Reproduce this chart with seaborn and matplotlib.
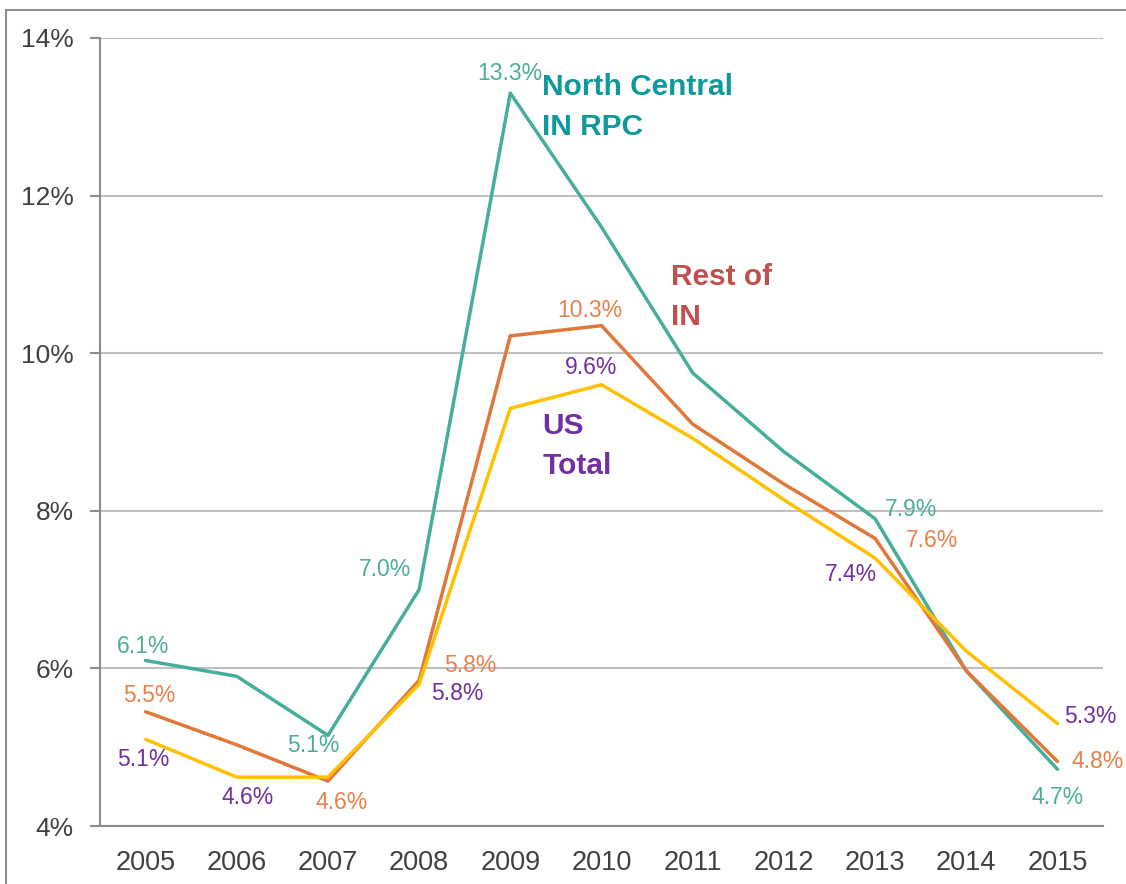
import pandas as pd
import matplotlib.pyplot as plt
import seaborn as sns
from matplotlib.patches import Rectangle

# data (unemployment rate, %)
years = [2005, 2006, 2007, 2008, 2009, 2010, 2011, 2012, 2013, 2014, 2015]
north_central = [6.1, 5.9, 5.15, 7.0, 13.3, 11.6, 9.75, 8.75, 7.9, 5.97, 4.72]
rest_of_in = [5.45, 5.03, 4.57, 5.85, 10.22, 10.35, 9.1, 8.34, 7.65, 5.97, 4.82]
us_total = [5.1, 4.62, 4.62, 5.8, 9.3, 9.6, 8.92, 8.14, 7.4, 6.22, 5.3]
series_names = ["North Central IN RPC", "Rest of IN", "US Total"]

# labelled points: (series, year, text)
point_labels = [
    ("North Central IN RPC", 2005, "6.1%"), ("North Central IN RPC", 2007, "5.1%"),
    ("North Central IN RPC", 2008, "7.0%"), ("North Central IN RPC", 2009, "13.3%"),
    ("North Central IN RPC", 2013, "7.9%"), ("North Central IN RPC", 2015, "4.7%"),
    ("Rest of IN", 2005, "5.5%"), ("Rest of IN", 2007, "4.6%"),
    ("Rest of IN", 2008, "5.8%"), ("Rest of IN", 2010, "10.3%"),
    ("Rest of IN", 2013, "7.6%"), ("Rest of IN", 2015, "4.8%"),
    ("US Total", 2005, "5.1%"), ("US Total", 2006, "4.6%"),
    ("US Total", 2008, "5.8%"), ("US Total", 2010, "9.6%"),
    ("US Total", 2013, "7.4%"), ("US Total", 2015, "5.3%"),
]

# label offsets in pixels (dx, dy up), same order as point_labels
label_offsets = [
    (-3, 14), (-15, -10), (-34, 20), (-1, 20), (36, 9), (0, -28),
    (4, 16), (14, -21), (51, 15), (-12, 15), (57, -2), (40, 0),
    (-2, -20), (11, -20), (38, -9), (-10, 17), (-24, -16), (33, 7),
]

line_colors = {"North Central IN RPC": "#46AF9B", "Rest of IN": "#E0783C", "US Total": "#FFC000"}
label_colors = {"North Central IN RPC": "#4BAE9B", "Rest of IN": "#E8804A", "US Total": "#7030A0"}

df = pd.DataFrame({
    "Year": years * 3,
    "Rate": north_central + rest_of_in + us_total,
    "Series": [s for s in series_names for _ in years],
})

sns.set_style("white")
plt.rcParams["font.family"] = ["Liberation Sans", "DejaVu Sans"]

fig = plt.figure(figsize=(11.26, 8.84), dpi=100)
ax = fig.add_axes([100 / 1126, 58 / 884, 1003 / 1126, 788 / 884])

# frame around the whole picture
fig.patches.append(Rectangle((6 / 1126, -0.1), 1.2, (884 - 10) / 884 + 0.1,
                             transform=fig.transFigure, fill=False,
                             edgecolor="#8C8C8C", linewidth=1.5))

sns.lineplot(data=df, x="Year", y="Rate", hue="Series", palette=line_colors,
             linewidth=2.5, legend=False, ax=ax, zorder=3)

# gridlines and axes
ax.set_ylim(4, 14)
ax.set_xlim(2004.5, 2015.5)
ax.set_yticks([4, 6, 8, 10, 12, 14])
ax.set_yticklabels(["4%", "6%", "8%", "10%", "12%", "14%"])
ax.set_xticks(years)
ax.set_xticklabels([str(y) for y in years])
ax.set_xticks([y - 0.5 for y in years] + [2015.5], minor=True)
ax.tick_params(axis="x", which="major", length=0, pad=17, labelsize=19.5, labelcolor="#404040")
ax.tick_params(axis="x", which="minor", length=8, width=1.5, color="#8C8C8C", direction="out")
ax.tick_params(axis="y", which="major", length=7, width=1.5, color="#8C8C8C", pad=12,
               labelsize=19, labelcolor="#404040", left=True)
ax.yaxis.grid(True, color="#C0C0C0", linewidth=1.5)
ax.set_axisbelow(True)
for side in ["top", "right"]:
    ax.spines[side].set_visible(False)
for side in ["left", "bottom"]:
    ax.spines[side].set_color("#8C8C8C")
    ax.spines[side].set_linewidth(1.5)
ax.set_xlabel("")
ax.set_ylabel("")

# data labels
values = {"North Central IN RPC": north_central, "Rest of IN": rest_of_in, "US Total": us_total}
for (name, yr, txt), (dx, dy) in zip(point_labels, label_offsets):
    val = values[name][years.index(yr)]
    ax.annotate(txt, (yr, val), xytext=(dx, dy), textcoords="offset pixels",
                ha="center", va="center", fontsize=16.5, color=label_colors[name], zorder=5)

# series names
ax.text(2009.35, 13.56, "North Central\nIN RPC", color="#0E9A9C", fontsize=21.5, fontweight="bold",
        va="top", ha="left", linespacing=1.55)
ax.text(2010.76, 11.15, "Rest of\nIN", color="#C0504D", fontsize=21.5, fontweight="bold",
        va="top", ha="left", linespacing=1.55)
ax.text(2009.35, 9.25, "US\nTotal", color="#7030A0", fontsize=21.5, fontweight="bold",
        va="top", ha="left", linespacing=1.55)

plt.savefig("out.png", dpi=100)
